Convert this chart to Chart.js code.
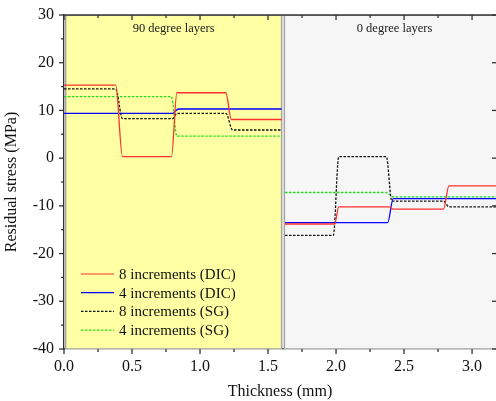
<!DOCTYPE html>
<html lang="en">
<head>
<meta charset="UTF-8">
<title>Residual stress through thickness</title>
<style>
  html, body { margin: 0; padding: 0; background: #fff; }
</style>
</head>
<body>
<canvas id="chart" width="496" height="401"></canvas>

<script src="https://cdn.jsdelivr.net/npm/chart.js"></script>
<script>
  // series: thickness (mm) and residual stress (MPa)
  // null marks the break between the 90 and 0 degree blocks
  const seriesNames = ['8 increments (DIC)', '4 increments (DIC)', '8 increments (SG)', '4 increments (SG)'];

  const dic8X = [0, 0.38, 0.43, 0.79, 0.83, 1.19, 1.23, 1.6, 1.61, 1.625, 1.99, 2.02, 2.39, 2.42, 2.79, 2.83, 3.2];
  const dic8Y = [15.3, 15.3, 0.3, 0.3, 13.7, 13.7, 8.1, 8.1, null, -13.8, -13.8, -10.2, -10.2, -10.7, -10.7, -5.8, -5.8];

  const dic4X = [0, 0.80, 0.84, 1.6, 1.61, 1.625, 2.38, 2.42, 3.2];
  const dic4Y = [9.4, 9.4, 10.3, 10.3, null, -13.5, -13.5, -8.5, -8.5];

  const sg8X = [0, 0.38, 0.43, 0.80, 0.83, 1.19, 1.24, 1.6, 1.61, 1.625, 1.98, 2.02, 2.37, 2.41, 2.79, 2.83, 3.2];
  const sg8Y = [14.5, 14.5, 8.3, 8.3, 9.4, 9.4, 5.9, 5.9, null, -16.2, -16.2, 0.3, 0.3, -9.0, -9.0, -10.2, -10.2];

  const sg4X = [0, 0.79, 0.83, 1.6, 1.61, 1.625, 2.37, 2.42, 3.2];
  const sg4Y = [12.9, 12.9, 4.6, 4.6, null, -7.2, -7.2, -8.1, -8.1];

  // shaded layer blocks
  const layerNames = ['90 degree layers', '0 degree layers'];
  const layerStart = [0.012, 1.62];
  const layerEnd = [1.6, 3.24];

  const xMin = 0, xMax = 3.176;
  const yMin = -40, yMax = 30;

  const serif = '"Liberation Serif", "Times New Roman", serif';

  function pts(xs, ys) {
    return xs.map((x, i) => ({ x: x, y: ys[i] }));
  }

  function line(ctx, x0, y0, x1, y1) {
    ctx.beginPath();
    ctx.moveTo(x0, y0);
    ctx.lineTo(x1, y1);
    ctx.stroke();
  }

  const decor = {
    id: 'decor',
    beforeDatasetsDraw(chart) {
      const { ctx, chartArea: a, scales: { x } } = chart;
      const fills = ['#ffffa3', '#f6f6f6'];
      ctx.save();
      ctx.beginPath();
      ctx.rect(a.left, a.top, a.right - a.left, a.bottom - a.top);
      ctx.clip();
      layerStart.forEach((s, i) => {
        const x0 = x.getPixelForValue(s);
        const x1 = x.getPixelForValue(layerEnd[i]);
        ctx.fillStyle = fills[i];
        ctx.fillRect(x0, a.top, x1 - x0, a.bottom - a.top);
        ctx.strokeStyle = '#a3a3a3';
        ctx.lineWidth = 1.5;
        ctx.strokeRect(x0, a.top, x1 - x0, a.bottom - a.top);
        ctx.fillStyle = '#222';
        ctx.font = '12.5px ' + serif;
        ctx.textAlign = 'center';
        ctx.textBaseline = 'middle';
        ctx.fillText(layerNames[i], (x0 + x1) / 2, a.top + 14);
      });
      ctx.restore();
    },
    afterDraw(chart) {
      const { ctx, chartArea: a, scales: { x, y } } = chart;
      ctx.save();
      ctx.strokeStyle = '#333';
      ctx.lineWidth = 1.3;
      // top frame
      line(ctx, a.left, a.top, a.right, a.top);
      // x ticks, major every 0.5, minor every 0.25
      for (let i = 0; i * 0.25 <= xMax; i++) {
        const px = x.getPixelForValue(i * 0.25);
        const len = i % 2 === 0 ? 5 : 3;
        line(ctx, px, a.bottom, px, a.bottom + len);
        line(ctx, px, a.top, px, a.top + len);
      }
      // y ticks, major every 10, minor every 5
      for (let v = yMin; v <= yMax; v += 5) {
        const py = y.getPixelForValue(v);
        const major = v % 10 === 0;
        line(ctx, a.left, py, a.left - (major ? 5 : 3), py);
        if (major) line(ctx, a.right, py, a.right - 4, py);
      }
      // legend inside plot, lower left
      chart.data.datasets.forEach((ds, i) => {
        const yy = a.bottom - 75 + i * 18.7;
        ctx.strokeStyle = ds.borderColor;
        ctx.lineWidth = 1.2;
        ctx.setLineDash(ds.borderDash || []);
        line(ctx, a.left + 17, yy, a.left + 50, yy);
        ctx.setLineDash([]);
        ctx.fillStyle = '#111';
        ctx.font = '15px ' + serif;
        ctx.textAlign = 'left';
        ctx.textBaseline = 'middle';
        ctx.fillText(ds.label, a.left + 55, yy + 1);
      });
      ctx.restore();
    }
  };

  const common = {
    borderWidth: 1.3,
    pointRadius: 0,
    cubicInterpolationMode: 'monotone',
    spanGaps: false
  };

  new Chart(document.getElementById('chart'), {
    type: 'line',
    data: {
      datasets: [
        Object.assign({ label: seriesNames[0], data: pts(dic8X, dic8Y), borderColor: '#ff3030' }, common),
        Object.assign({ label: seriesNames[1], data: pts(dic4X, dic4Y), borderColor: '#0000ff' }, common),
        Object.assign({ label: seriesNames[2], data: pts(sg8X, sg8Y), borderColor: '#111111', borderDash: [2.5, 1.5] }, common),
        Object.assign({ label: seriesNames[3], data: pts(sg4X, sg4Y), borderColor: '#22dd22', borderDash: [2.5, 1.5] }, common)
      ]
    },
    options: {
      responsive: false,
      devicePixelRatio: 1,
      animation: false,
      layout: { padding: { top: 15, right: 0, left: 0, bottom: 0 } },
      plugins: {
        legend: { display: false },
        tooltip: { enabled: false }
      },
      scales: {
        x: {
          type: 'linear',
          min: xMin,
          max: xMax,
          afterFit(s) { s.height = 52; s.paddingLeft = 0; s.paddingRight = 0; },
          grid: { display: false, drawTicks: false },
          border: { color: '#333', width: 1.3 },
          ticks: {
            stepSize: 0.5,
            includeBounds: false,
            autoSkip: false,
            maxRotation: 0,
            padding: 8,
            color: '#111',
            font: { family: serif, size: 16 },
            callback: v => v.toFixed(1)
          },
          title: {
            display: true,
            text: 'Thickness (mm)',
            color: '#111',
            font: { family: serif, size: 16 },
            padding: { top: 0, bottom: 0 }
          }
        },
        y: {
          min: yMin,
          max: yMax,
          afterFit(s) { s.width = 64; s.paddingTop = 0; s.paddingBottom = 0; },
          grid: { display: false, drawTicks: false },
          border: { color: '#333', width: 1.3 },
          ticks: {
            stepSize: 10,
            padding: 10,
            color: '#111',
            font: { family: serif, size: 16 }
          },
          title: {
            display: true,
            text: 'Residual stress (MPa)',
            color: '#111',
            font: { family: serif, size: 16 },
            padding: { top: 2, bottom: 0 }
          }
        }
      }
    },
    plugins: [decor]
  });
</script>
</body>
</html>
